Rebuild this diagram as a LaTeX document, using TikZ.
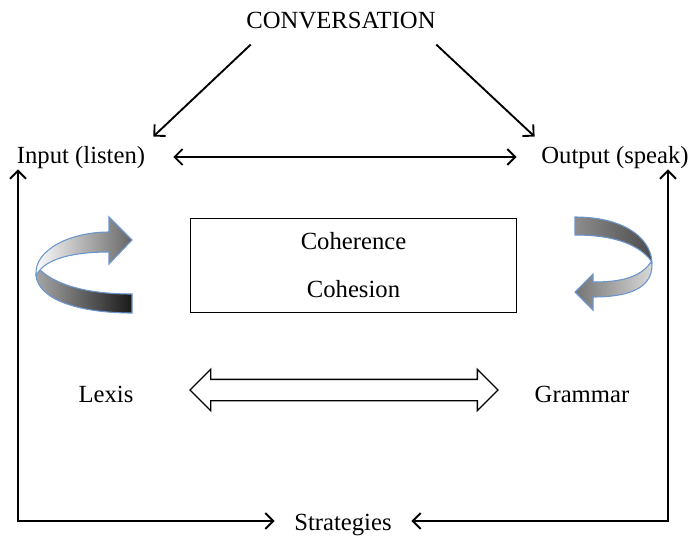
\documentclass[tikz,border=0pt]{standalone}
\usepackage{fontspec}
\setmainfont{Liberation Serif}
\usetikzlibrary{arrows.meta, shapes.arrows, calc}
\definecolor{ribbon edge}{RGB}{105,150,205}
\tikzset{
  word/.style={font=\fontsize{18.5}{22}\selectfont, inner sep=0pt},
  link/.style={-{Straight Barb[length=6pt,width=12pt]}, line width=1.4pt},
  links/.style={{Straight Barb[length=6pt,width=12pt]}-{Straight Barb[length=6pt,width=12pt]}, line width=1.4pt},
  textbox/.style={draw, line width=0.8pt, minimum width=245pt, minimum height=71pt,
    align=center, font=\fontsize{18.5}{36}\selectfont},
  hollow/.style={shape=double arrow, draw, line width=1pt, fill=white, inner sep=7.5pt,
    minimum height=231pt, minimum width=30pt, double arrow head extend=7.5pt,
    double arrow tip angle=90},
  ribbon/.style={draw=ribbon edge, line width=0.8pt}
}
\begin{document}
\begin{tikzpicture}[x=0.75pt, y=-0.75pt]
  \useasboundingbox (0,0) rectangle (700,539);
  % labels
  \node[word] (conv) at (341,21) {CONVERSATION};
  \node[word] (input) at (81,158) {Input (listen)};
  \node[word] (output) at (615,158) {Output (speak)};
  \node[textbox] (cc) at (353.5,265.5) {Coherence\\Cohesion};
  \node[word] (lexis) at (106,394) {Lexis};
  \node[word] (grammar) at (582,394) {Grammar};
  \node[word] (strat) at (343,525) {Strategies};
  \coordinate (sw) at (18,521);
  \coordinate (se) at (668,521);
  % arrows
  \draw[link] ([shift={(4.5,15)}]conv.south west) -- ([shift={(8,-10)}]input.north east);
  \draw[link] ([shift={(0.5,15)}]conv.south east) -- ([shift={(-6.5,-10)}]output.north west);
  \draw[links] ([shift={(28,-1)}]input.east) -- ([shift={(-24.5,-1)}]output.west);
  \draw[links] (sw |- input.south) -- (sw) -- ($(sw -| strat.west)+(-19.5,0)$);
  \draw[links] (se |- output.south) -- (se) -- ($(se -| strat.east)+(19.5,0)$);
  \node[hollow] (lg) at ($(lexis)!0.5!(grammar)+(0,-4)$) {};
  % curved arrows
  \draw[ribbon, left color=black!35, right color=black!90]
    (40,270) .. controls (60,288) and (95,294) .. (132,294) -- (132,313)
    .. controls (80,313) and (38,300) .. (36,275) -- cycle;
  \draw[ribbon, left color=white, right color=black!60]
    (36,275) .. controls (34,250) and (70,232) .. (109,232) -- (109,217) -- (132,240)
    -- (109,264) -- (109,252) .. controls (75,252) and (50,258) .. (40,270) -- cycle;
  \draw[ribbon, left color=black!45, right color=black!70]
    (575,217) .. controls (620,217) and (650,235) .. (652,262)
    .. controls (640,245) and (615,235) .. (575,235) -- cycle;
  \draw[ribbon, left color=black!55, right color=black!15]
    (651,262) .. controls (640,278) and (620,282) .. (593,282) -- (593,274) -- (575,292)
    -- (593,310) -- (593,297) .. controls (625,297) and (652,290) .. (652,265) -- cycle;
\end{tikzpicture}
\end{document}
